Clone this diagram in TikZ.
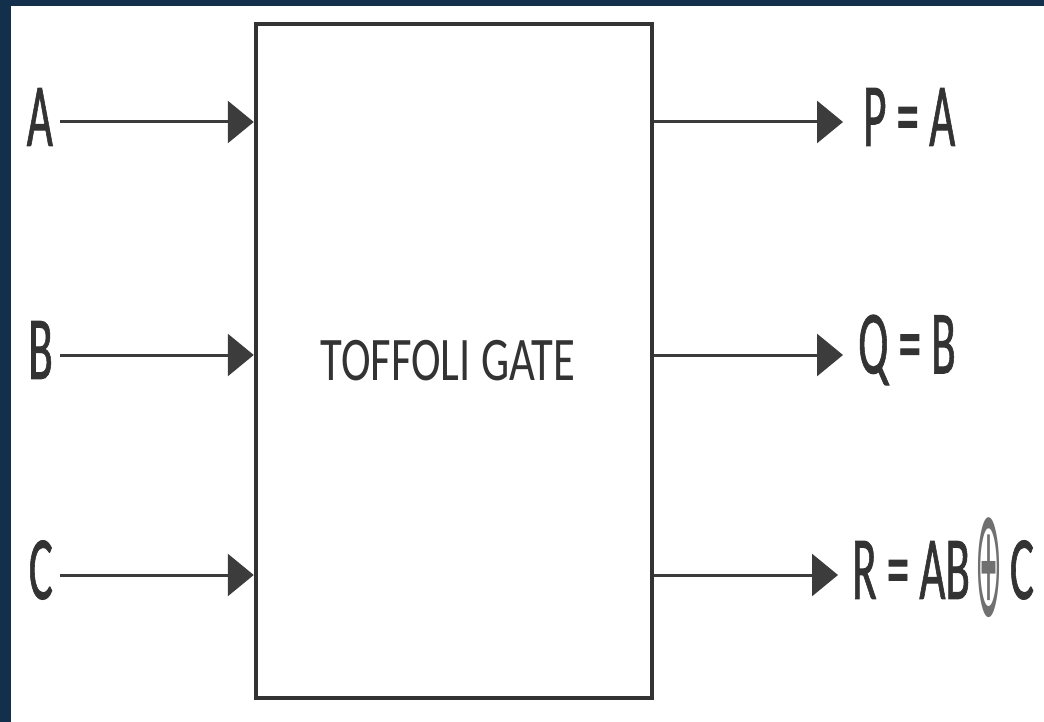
\documentclass[tikz,border=0pt]{standalone}
\usepackage{fontspec}
\setmainfont{Carlito}
\newfontfamily\pinfont{Carlito}[BoldFont={Carlito}, BoldFeatures={FakeBold=1.2}]
\newfontfamily\opfont{DejaVu Sans}
\usepackage{graphicx}
\usetikzlibrary{arrows.meta,calc}
\definecolor{navy}{HTML}{12304C}
\definecolor{ink}{HTML}{333333}
\definecolor{wirecol}{HTML}{3C3C3C}
\definecolor{opgray}{HTML}{707070}
\newcommand{\narrow}[2][0.5]{\scalebox{#1}[1]{#2}}
\newcommand{\xorsign}{\raisebox{-17pt}{\resizebox*{27pt}{100pt}{\textcolor{opgray}{\opfont\mdseries ⊕}}}}
\tikzset{
  wire/.style={draw=wirecol, line width=3pt, -{Triangle[length=26pt,width=42pt]}},
  gatebox/.style={draw=ink, line width=4.5pt, minimum width=396pt, minimum height=674pt, inner sep=0pt},
  pin/.style={text=ink, font=\fontsize{90}{90}\pinfont\bfseries, inner ysep=0pt},
  gatelab/.style={text=ink, font=\fontsize{62}{62}\selectfont},
}

\begin{document}
\begin{tikzpicture}[x=1pt,y=-1pt]
  \useasboundingbox (0,0) rectangle (1044,722);
  \fill[navy] (0,0) rectangle (1044,722);
  \fill[white] (11,6) rectangle (1044,722);

  % the gate
  \node[gatebox, gatelab] (gate) at (454,361) {\narrow[0.72]{TOFFOLI GATE}\hspace*{12pt}};

  % rows of the wires
  \coordinate (rowA) at (0,122);
  \coordinate (rowB) at (0,355);
  \coordinate (rowC) at (0,575);

  % inputs
  \node[pin, anchor=east, inner xsep=7pt] (inA) at (60,117) {\narrow{A}};
  \node[pin, anchor=east, inner xsep=7pt] (inB) at (60,350) {\narrow{B}};
  \node[pin, anchor=east, inner xsep=7pt] (inC) at (60,570) {\narrow{C}};

  % outputs
  \node[pin, anchor=west, inner xsep=20pt] (outP) at (843,117) {\narrow{P = A}};
  \node[pin, anchor=west, inner xsep=15pt] (outQ) at (843,350) {\narrow{Q = B}};
  \node[pin, anchor=west, inner xsep=14pt] (outR) at (838,568) {\narrow{R = AB}\hspace{6pt}\xorsign\hspace{7pt}\narrow{C}};

  \foreach \n/\r in {inA/rowA,inB/rowB,inC/rowC}{
    \draw[wire] (\n.east |- \r) -- (gate.west |- \r);
  }
  \draw[wire] (gate.east |- rowA) -- (outP.west |- rowA);
  \draw[wire] (gate.east |- rowB) -- (outQ.west |- rowB);
  \draw[wire] (gate.east |- rowC) -- (outR.west |- rowC);
\end{tikzpicture}
\end{document}
